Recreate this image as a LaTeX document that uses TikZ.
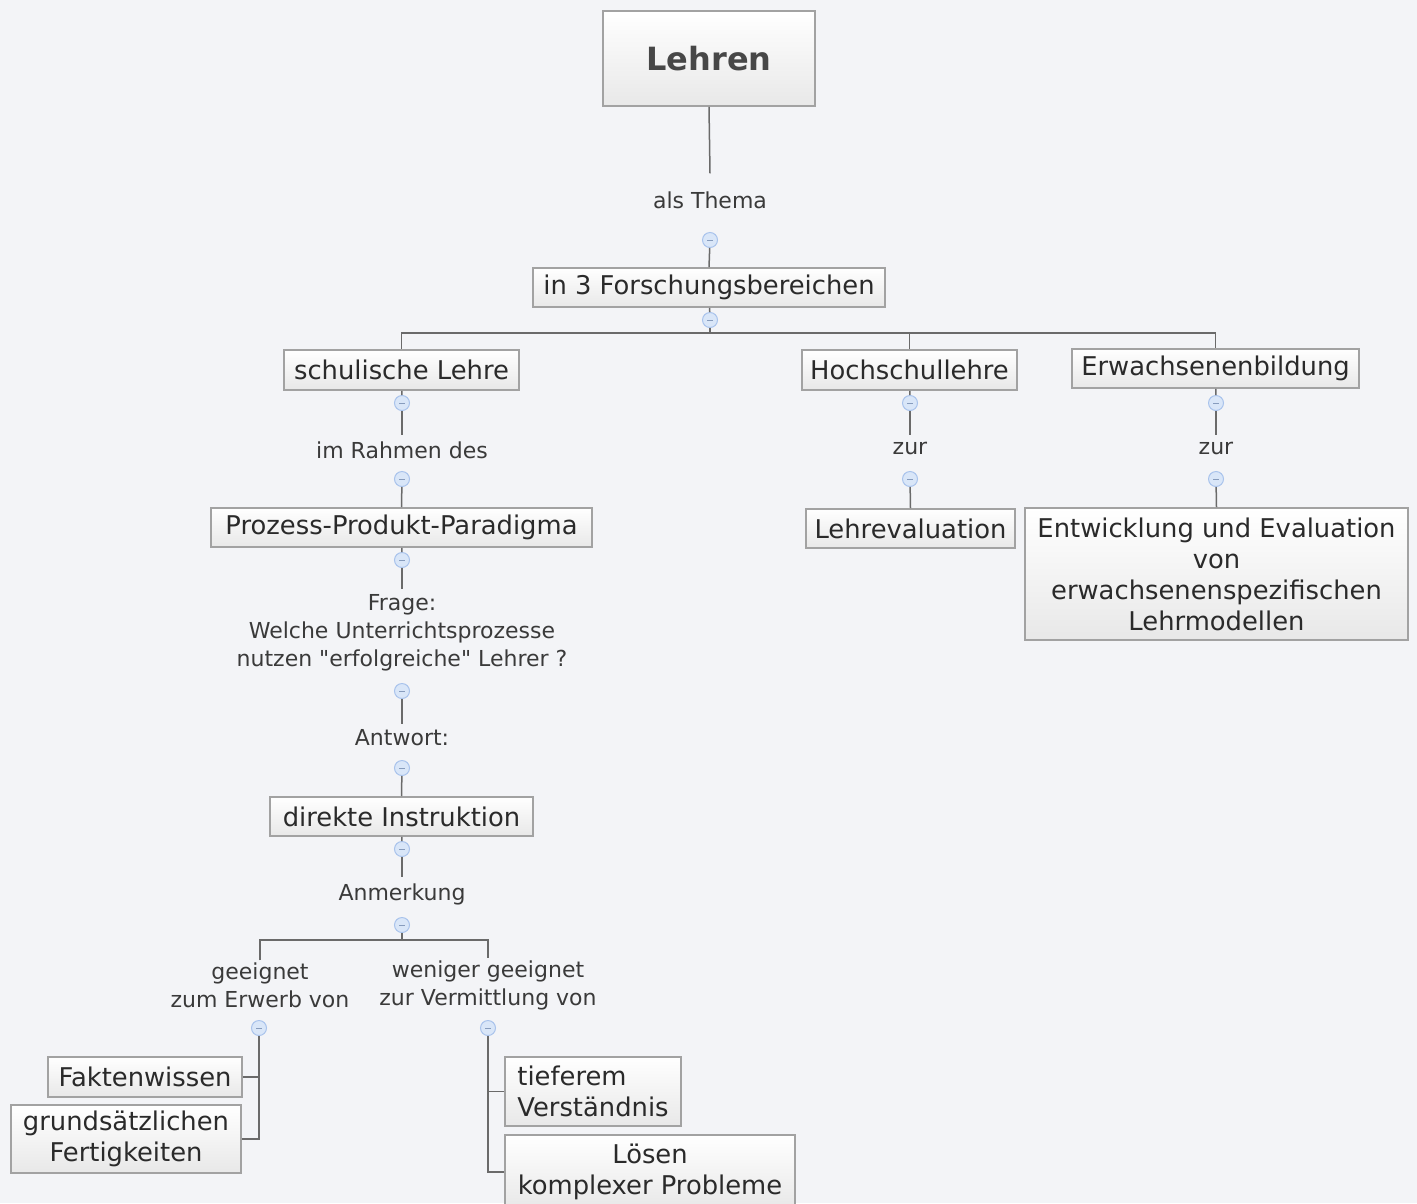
\documentclass[tikz,border=0pt]{standalone}
\usepackage{fontspec}
\setmainfont{DejaVu Sans}[Ligatures=TeXOff]
\definecolor{bgc}{HTML}{F3F4F7}
\definecolor{boxgray}{HTML}{A2A2A2}
\definecolor{boxbot}{HTML}{E8E8E8}
\definecolor{textc}{HTML}{2A2A2A}
\definecolor{lblc}{HTML}{3A3A3A}
\definecolor{linec}{HTML}{6A6A6A}
\definecolor{mkfill}{HTML}{D9E6F8}
\definecolor{mkdraw}{HTML}{A9C3EC}
\begin{document}
\begin{tikzpicture}[x=1pt,y=-1pt,
  box/.style={draw=boxgray, line width=1.8pt, top color=white, bottom color=boxbot,
    font=\fontsize{25.8}{31}\selectfont, text=textc, inner sep=0pt, align=center},
  lbl/.style={font=\fontsize{22}{28}\selectfont, text=lblc, align=center, inner sep=2pt},
  mk/.style={circle, draw=mkdraw, fill=mkfill, line width=1pt, minimum size=15pt, inner sep=0pt,
    path picture={\draw[mkdraw!80!black, line width=0.8pt]
      ([xshift=-3pt]path picture bounding box.center) -- ([xshift=3pt]path picture bounding box.center);}},
  conn/.style={draw=linec, line width=1.5pt}]
\fill[bgc] (0,0) rectangle (1417,1203);
\useasboundingbox (0,0) rectangle (1417,1203);

% nodes
\node[box, font=\fontsize{32}{36}\selectfont\bfseries, text=black!72, minimum width=212pt, minimum height=95pt] (lehren) at (709,58.5) {Lehren};
\node[lbl] (thema) at (710,200) {als Thema};
\node[mk] (m1) at (710,240) {};
\node[box, minimum width=352pt, minimum height=39pt] (forsch) at (709,287.5) {in 3 Forschungsbereichen};
\node[mk] (m2) at (710,320) {};
\coordinate (bar) at (710,333);

\node[box, minimum width=235pt, minimum height=40pt] (schul) at (401.5,370) {schulische Lehre};
\node[box, minimum width=215pt, minimum height=40pt] (hoch) at (909.5,370) {Hochschullehre};
\node[box, minimum width=287pt, minimum height=39pt] (erw) at (1215.5,368.5) {Erwachsenenbildung};

\node[mk] (m3) at (402,403) {};
\node[lbl] (rahmen) at (402,450) {im Rahmen des};
\node[mk] (m4) at (402,479) {};
\node[box, minimum width=381pt, minimum height=39pt] (prozess) at (401.5,527.5) {Prozess-Produkt-Paradigma};
\node[mk] (m5) at (402,560) {};
\node[lbl] (frage) at (402,633) {Frage:\\Welche Unterrichtsprozesse\\nutzen "erfolgreiche" Lehrer ?};
\node[mk] (m6) at (402,691) {};
\node[lbl] (antwort) at (402,738) {Antwort:};
\node[mk] (m7) at (402,768) {};
\node[box, minimum width=263pt, minimum height=39pt] (direkt) at (401.5,816.5) {direkte Instruktion};
\node[mk] (m8) at (402,849) {};
\node[lbl] (anmerk) at (402,894) {Anmerkung};
\node[mk] (m9) at (402,925) {};
\coordinate (bar2) at (402,940);
\node[lbl] (geeig) at (260,985) {geeignet\\zum Erwerb von};
\node[lbl] (wenig) at (488,985) {weniger geeignet\\zur Vermittlung von};
\node[mk] (m10) at (259,1028) {};
\node[mk] (m11) at (488,1028) {};
\node[box, minimum width=194pt, minimum height=40pt] (fakten) at (145,1077) {Faktenwissen};
\node[box, minimum width=230pt, minimum height=68pt] (grund) at (126,1139) {grundsätzlichen\\Fertigkeiten};
\node[box, minimum width=176pt, minimum height=69pt, align=left] (tief) at (593,1091.5) {tieferem\\Verständnis};
\node[box, minimum width=290pt, minimum height=74pt] (loesen) at (650,1172) {Lösen\\komplexer Probleme};

\node[mk] (m12) at (910,403) {};
\node[lbl] (zur1) at (910,448) {zur};
\node[mk] (m13) at (910,479) {};
\node[box, minimum width=209pt, minimum height=39pt] (lehrev) at (910.5,528.5) {Lehrevaluation};

\node[mk] (m14) at (1216,403) {};
\node[lbl] (zur2) at (1216,448) {zur};
\node[mk] (m15) at (1216,479) {};
\node[box, minimum width=383pt, minimum height=132pt] (entw) at (1216.5,574) {Entwicklung und Evaluation\\von\\erwachsenenspezifischen\\Lehrmodellen};

% connectors
\draw[conn] (lehren.south) -- ([yshift=16pt]thema.north);
\draw[conn] (m1) -- (forsch.north);
\draw[conn] (forsch) -- (m2);
\draw[conn] (m2) -- (bar);
\draw[conn] (schul.north) |- (bar) -| (erw.north);
\draw[conn] (hoch.north) -- (hoch.north |- bar);

\draw[conn] (schul) -- (m3);
\draw[conn] (m3) -- ([yshift=4pt]rahmen.north);
\draw[conn] (m4) -- (prozess.north);
\draw[conn] (prozess) -- (m5);
\draw[conn] (m5) -- ([yshift=4pt]frage.north);
\draw[conn] (m6) -- ([yshift=4pt]antwort.north);
\draw[conn] (m7) -- (direkt.north);
\draw[conn] (direkt) -- (m8);
\draw[conn] (m8) -- ([yshift=4pt]anmerk.north);
\draw[conn] (m9) -- (bar2);
\draw[conn] (geeig.north) |- (bar2) -| (wenig.north);
\draw[conn] (m10) |- (grund.east);
\draw[conn] (fakten.east) -- (fakten.east -| m10);
\draw[conn] (m11) |- (loesen.west);
\draw[conn] (tief.west) -- (tief.west -| m11);

\draw[conn] (hoch) -- (m12);
\draw[conn] (m12) -- ([yshift=4pt]zur1.north);
\draw[conn] (m13) -- (lehrev.north);
\draw[conn] (erw) -- (m14);
\draw[conn] (m14) -- ([yshift=4pt]zur2.north);
\draw[conn] (m15) -- (entw.north);
\end{tikzpicture}
\end{document}
